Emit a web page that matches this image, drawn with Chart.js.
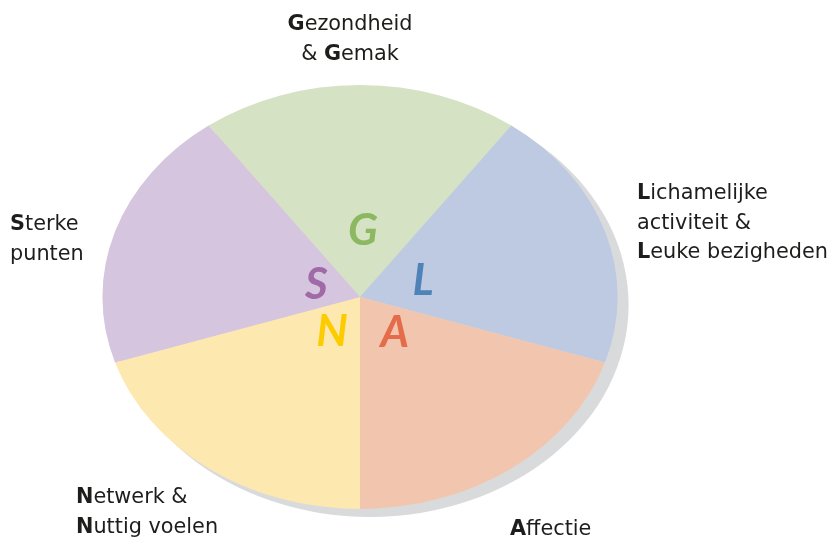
<!DOCTYPE html>
<html>
<head>
<meta charset="utf-8">
<script src="https://cdn.jsdelivr.net/npm/chart.js@4"></script>
<style>
  html, body { margin: 0; padding: 0; background: #fff; }
  canvas { display: block; }
</style>
</head>
<body>
<canvas id="pie" width="831" height="538"></canvas>
<script>
// Data
const categories = [
    ['Gezondheid', '& Gemak'],
    ['Lichamelijke', 'activiteit &', 'Leuke bezigheden'],
    ['Affectie'],
    ['Netwerk &', 'Nuttig voelen'],
    ['Sterke', 'punten']
];
const letters = ['G', 'L', 'A', 'N', 'S'];
const values = [1, 1, 1, 1, 1];

// Styles
const sliceColors = ['#d5e2c4', '#bdcae2', '#f2c6ae', '#fde8b0', '#d6c5de'];
const letterColors = ['#8cb862', '#4f83b8', '#e56c4b', '#fccc00', '#a06aa7'];
const letterDist = [0.31, 0.245, 0.21, 0.205, 0.19];
const labelPos = [
    { x: 350, y: 25, align: 'center' },
    { x: 637, y: 194, align: 'left' },
    { x: 510, y: 530, align: 'left' },
    { x: 76, y: 498, align: 'left' },
    { x: 10, y: 225, align: 'left' }
];
const SX = 1.215; // rek horizontaal -> ellips
const FONT = '"DejaVu Sans", sans-serif';
const FONT_SIZE = 20.8;

// ellips + schaduw
const ellipsePlugin = {
    id: 'ellipse',
    beforeDatasetsDraw(chart) {
        const arc = chart.getDatasetMeta(0).data[0];
        const { x, y, outerRadius } = arc;
        const ctx = chart.ctx;
        ctx.save();
        ctx.fillStyle = '#d9dadb';
        ctx.beginPath();
        ctx.ellipse(x + 10, y + 8, outerRadius * SX + 1, outerRadius, 0, 0, Math.PI * 2);
        ctx.fill();
        ctx.restore();
        ctx.save();
        ctx.translate(x, y);
        ctx.scale(SX, 1);
        ctx.translate(-x, -y);
    },
    afterDatasetsDraw(chart) {
        chart.ctx.restore();
    }
};

// tekst met vette hoofdletters
function drawRich(ctx, line, x, y, align) {
    const parts = [];
    for (const ch of line) {
        const bold = /[A-Z]/.test(ch);
        const last = parts[parts.length - 1];
        if (last && last.bold === bold) last.t += ch;
        else parts.push({ t: ch, bold: bold });
    }
    let total = 0;
    parts.forEach(p => {
        ctx.font = (p.bold ? 'bold ' : '') + FONT_SIZE + 'px ' + FONT;
        p.w = ctx.measureText(p.t).width;
        total += p.w;
    });
    let cx = align === 'center' ? x - total / 2 : x;
    parts.forEach(p => {
        ctx.font = (p.bold ? 'bold ' : '') + FONT_SIZE + 'px ' + FONT;
        ctx.fillText(p.t, cx, y);
        cx += p.w;
    });
}

const labelPlugin = {
    id: 'labels',
    afterDraw(chart) {
        const ctx = chart.ctx;
        const meta = chart.getDatasetMeta(0);
        ctx.save();
        ctx.textBaseline = 'middle';
        ctx.textAlign = 'center';
        meta.data.forEach((arc, i) => {
            const mid = (arc.startAngle + arc.endAngle) / 2;
            const r = arc.outerRadius * letterDist[i];
            ctx.font = 'italic bold 44px Lato, sans-serif';
            ctx.fillStyle = letterColors[i];
            ctx.fillText(letters[i], arc.x + Math.cos(mid) * r * SX + 3, arc.y + Math.sin(mid) * r);
        });
        ctx.textAlign = 'left';
        ctx.fillStyle = '#1d1d1b';
        categories.forEach((lines, i) => {
            const p = labelPos[i];
            lines.forEach((line, j) => {
                drawRich(ctx, line, p.x, p.y + j * 29.5, p.align);
            });
        });
        ctx.restore();
    }
};

const ctx = document.getElementById('pie').getContext('2d');
const pieChart = new Chart(ctx, {
    type: 'pie',
    data: {
        labels: categories.map(c => c.join(' ')),
        datasets: [{
            data: values,
            backgroundColor: sliceColors,
            borderWidth: 0,
            clip: false
        }]
    },
    options: {
        responsive: false,
        animation: false,
        rotation: -36,
        layout: {
            padding: { top: 85, bottom: 29, left: 102, right: 213 }
        },
        plugins: {
            legend: { display: false },
            tooltip: { enabled: false }
        }
    },
    plugins: [ellipsePlugin, labelPlugin]
});
</script>
</body>
</html>
